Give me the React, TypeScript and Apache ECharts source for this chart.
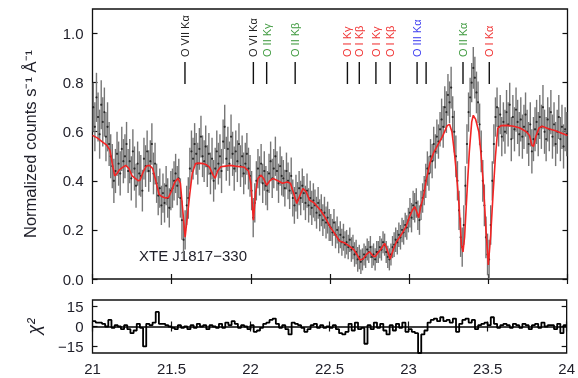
import React, { useEffect, useRef } from "react";
import * as echarts from "echarts";

// Binned spectrum: bin centres start at fluxStart, spaced by fluxStep (Å)
const fluxStart = 21.005;
const fluxStep = 0.01;
const flux = [
  0.70, 0.62, 0.74, 0.66, 0.59, 0.71, 0.64, 0.68, 0.58, 0.62,
  0.55, 0.50, 0.46, 0.40, 0.44, 0.51, 0.47, 0.43, 0.53, 0.48,
  0.50, 0.55, 0.44, 0.48, 0.41, 0.52, 0.45, 0.38, 0.47, 0.43,
  0.42, 0.36, 0.49, 0.46, 0.52, 0.44, 0.48, 0.55, 0.43, 0.47,
  0.39, 0.34, 0.37, 0.30, 0.35, 0.31, 0.38, 0.33, 0.29, 0.36,
  0.37, 0.40, 0.43, 0.38, 0.41, 0.33, 0.24, 0.16, 0.20, 0.30,
  0.33, 0.45, 0.52, 0.49, 0.55, 0.51, 0.47, 0.53, 0.58, 0.50,
  0.48, 0.54, 0.46, 0.51, 0.43, 0.49, 0.40, 0.45, 0.52, 0.47,
  0.50, 0.44, 0.56, 0.62, 0.49, 0.53, 0.47, 0.58, 0.51, 0.45,
  0.52, 0.48, 0.55, 0.46, 0.50, 0.43, 0.47, 0.51, 0.45, 0.42,
  0.36, 0.25, 0.31, 0.40, 0.45, 0.42, 0.47, 0.39, 0.44, 0.38,
  0.36, 0.43, 0.48, 0.41, 0.45, 0.50, 0.44, 0.39, 0.46, 0.42,
  0.41, 0.37, 0.44, 0.40, 0.36, 0.42, 0.33, 0.30, 0.35, 0.32,
  0.37, 0.33, 0.38, 0.35, 0.31, 0.36, 0.30, 0.33, 0.29, 0.32,
  0.30, 0.27, 0.31, 0.26, 0.28, 0.24, 0.27, 0.23, 0.25, 0.22,
  0.21, 0.19, 0.23, 0.18, 0.20, 0.16, 0.18, 0.15, 0.17, 0.14,
  0.15, 0.13, 0.16, 0.12, 0.13, 0.10, 0.11, 0.08, 0.09, 0.07,
  0.08, 0.10, 0.09, 0.12, 0.11, 0.13, 0.09, 0.10, 0.08, 0.11,
  0.11, 0.13, 0.12, 0.15, 0.14, 0.11, 0.09, 0.08, 0.10, 0.13,
  0.14, 0.16, 0.15, 0.18, 0.17, 0.20, 0.19, 0.22, 0.21, 0.24,
  0.27, 0.25, 0.30, 0.29, 0.31, 0.26, 0.24, 0.30, 0.33, 0.36,
  0.40, 0.45, 0.43, 0.50, 0.48, 0.55, 0.52, 0.58, 0.56, 0.61,
  0.65, 0.62, 0.70, 0.68, 0.75, 0.72, 0.78, 0.66, 0.60, 0.50,
  0.40, 0.28, 0.17, 0.13, 0.22, 0.38, 0.55, 0.68, 0.74, 0.80,
  0.86, 0.82, 0.76, 0.72, 0.63, 0.52, 0.40, 0.30, 0.17, 0.10,
  0.08, 0.22, 0.40, 0.55, 0.66, 0.70, 0.62, 0.67, 0.58, 0.64,
  0.60, 0.68, 0.63, 0.71, 0.57, 0.66, 0.61, 0.69, 0.64, 0.59,
  0.65, 0.58, 0.62, 0.67, 0.60, 0.55, 0.63, 0.52, 0.57, 0.61,
  0.64, 0.59, 0.66, 0.62, 0.70, 0.60, 0.57, 0.65, 0.61, 0.68,
  0.58, 0.63, 0.55, 0.60, 0.66, 0.57, 0.62, 0.54, 0.61, 0.59,
];
// 1-sigma error for each 0.1 Å stretch of the spectrum
const fluxErr = [
  0.10, 0.09, 0.09, 0.085, 0.08, 0.08, 0.085, 0.085, 0.09, 0.085,
  0.08, 0.08, 0.075, 0.07, 0.065, 0.055, 0.05, 0.045, 0.045, 0.05,
  0.06, 0.07, 0.085, 0.08, 0.085, 0.08, 0.09, 0.09, 0.09, 0.09,
];

// Best-fitting absorption model
const modelWave = [
  21.00, 21.03, 21.06, 21.09, 21.11, 21.125, 21.14, 21.155, 21.17, 21.19,
  21.21, 21.23, 21.25, 21.27, 21.29, 21.30, 21.32, 21.34, 21.36, 21.38,
  21.40, 21.42, 21.44, 21.46, 21.48, 21.50, 21.52, 21.54, 21.555, 21.57,
  21.585, 21.60, 21.615, 21.63, 21.65, 21.67, 21.70, 21.72, 21.74, 21.76,
  21.775, 21.79, 21.81, 21.84, 21.87, 21.90, 21.93, 21.96, 21.985, 22.00,
  22.016, 22.03, 22.045, 22.065, 22.08, 22.10, 22.12, 22.14, 22.17, 22.20,
  22.23, 22.25, 22.27, 22.29, 22.31, 22.33, 22.35, 22.37, 22.40, 22.44,
  22.47, 22.50, 22.53, 22.56, 22.59, 22.62, 22.65, 22.67, 22.69, 22.71,
  22.73, 22.75, 22.77, 22.785, 22.80, 22.82, 22.845, 22.86, 22.88, 22.90,
  22.92, 22.95, 22.98, 23.00, 23.02, 23.035, 23.05, 23.06, 23.075, 23.09,
  23.11, 23.13, 23.155, 23.18, 23.21, 23.24, 23.255, 23.27, 23.285, 23.30,
  23.315, 23.33, 23.34, 23.35, 23.365, 23.38, 23.395, 23.405, 23.42, 23.44,
  23.455, 23.47, 23.485, 23.50, 23.515, 23.53, 23.545, 23.56, 23.58, 23.62,
  23.66, 23.70, 23.74, 23.76, 23.775, 23.785, 23.80, 23.82, 23.84, 23.88,
  23.92, 23.96, 24.00,
];
const modelFlux = [
  0.585, 0.575, 0.56, 0.545, 0.525, 0.47, 0.42, 0.43, 0.445, 0.455,
  0.463, 0.45, 0.42, 0.41, 0.40, 0.402, 0.436, 0.46, 0.463, 0.45,
  0.40, 0.345, 0.335, 0.33, 0.332, 0.36, 0.395, 0.41, 0.39, 0.28,
  0.17, 0.26, 0.35, 0.43, 0.47, 0.472, 0.47, 0.465, 0.455, 0.425,
  0.41, 0.44, 0.457, 0.46, 0.463, 0.46, 0.458, 0.455, 0.44, 0.39,
  0.24, 0.35, 0.41, 0.423, 0.41, 0.382, 0.40, 0.41, 0.40, 0.39,
  0.395, 0.39, 0.35, 0.308, 0.34, 0.369, 0.355, 0.322, 0.31, 0.28,
  0.25, 0.213, 0.185, 0.155, 0.148, 0.135, 0.12, 0.10, 0.077, 0.082,
  0.10, 0.111, 0.095, 0.09, 0.105, 0.12, 0.145, 0.12, 0.082, 0.12,
  0.152, 0.18, 0.213, 0.25, 0.28, 0.295, 0.27, 0.25, 0.30, 0.335,
  0.41, 0.47, 0.515, 0.545, 0.58, 0.625, 0.63, 0.60, 0.52, 0.42,
  0.30, 0.14, 0.11, 0.17, 0.35, 0.52, 0.64, 0.667, 0.65, 0.60,
  0.50, 0.375, 0.20, 0.057, 0.18, 0.348, 0.50, 0.615, 0.625, 0.626,
  0.622, 0.615, 0.60, 0.585, 0.545, 0.54, 0.58, 0.615, 0.622, 0.612,
  0.605, 0.595, 0.585,
];

// Residuals, binned from chiStart in steps of chiStep (Å)
const chiStart = 21.0;
const chiStep = 0.02;
const chi = [
  4, 3, 3, 2, 0,
  5, -1, 1, 0, -2,
  1, -2, -5, -3, 2,
  -1, -15, 2, 1, 3,
  11, 2, 2, 1, 0,
  -1, -2, 1, -1, 0,
  -2, 1, -1, 2, 0,
  1, -2, 1, 0, -1,
  2, -1, 3, 1, 4,
  2, -1, 1, 0, -2,
  1, -4, -3, -1, 2,
  3, 5, 6, 2, -1,
  1, -2, -6, 3, 2,
  1, -1, -4, -2, 1,
  2, -1, 1, -1, 0,
  -1, 1, -2, -5, -6,
  -4, 2, -3, 3, -2,
  -1, -13, 1, -2, 3,
  -1, 2, -3, -6, 1,
  -3, 2, -1, 3, -4,
  -2, -4, -5, -20, -6,
  -3, 3, 5, 6, 4,
  7, 4, 5, 3, 6,
  -4, 2, 5, 6, 3,
  5, -2, 1, 2, 3,
  1, 7, 2, -1, 1,
  2, 1, -1, 2, 1,
  -1, 2, 1, -2, 1,
  2, -1, 3, 0, 1,
  1, -2, 2, -5, 1,
];

// Absorption line identifications
const lineWave = [21.584, 22.016, 22.10, 22.28, 22.61, 22.685, 22.79, 22.88, 23.05, 23.107, 23.34, 23.506];
const lineName = ["O VII Kα", "O VI Kα", "O II Kγ", "O II Kβ", "O I Kγ", "O I Kβ", "O I Kγ", "O I Kβ", "O III Kα", "", "O II Kα", "O I Kα"];
const lineColor = ["#222222", "#222222", "#3f9a3f", "#3f9a3f", "#f03232", "#f03232", "#f03232", "#f03232", "#3c3cf0", "#222222", "#3f9a3f", "#f03232"];

// Tick values on the flux axis
const fluxTicks = [0, 0.2, 0.4, 0.6, 0.8, 1.0];
const chiTicks = [-15, 0, 15];

const FONT = "'Liberation Sans', Arial, Helvetica, sans-serif";
const INK = "#1e1e28";

export default function App() {
  const ref = useRef<HTMLDivElement>(null);

  useEffect(() => {
    const chart = echarts.init(ref.current!, null, { renderer: "svg" });

    const spectrum = flux.map((f, i) => [fluxStart + i * fluxStep, f, fluxErr[Math.floor(i / 10)]]);
    const model = modelWave.map((w, i) => [w, modelFlux[i]]);
    const resid = chi.map((v, i) => [chiStart + i * chiStep, v]);
    resid.push([chiStart + chi.length * chiStep, chi[chi.length - 1]]);

    const tick = { show: true, inside: true, length: 5, lineStyle: { color: "#111", width: 1.2 } };
    const xBase = {
      type: "value" as const,
      min: 21,
      max: 24,
      interval: 0.5,
      axisLine: { show: false },
      splitLine: { show: false },
      axisTick: tick,
    };

    chart.setOption({
      animation: false,
      textStyle: { fontFamily: FONT, color: INK },
      grid: [
        { left: 92.5, right: 10.5, top: 9, height: 270, show: true, borderColor: "#111", borderWidth: 1.3, backgroundColor: "transparent" },
        { left: 92.5, right: 10.5, top: 300, height: 53, show: true, borderColor: "#111", borderWidth: 1.3, backgroundColor: "transparent" },
      ],
      xAxis: [
        { ...xBase, gridIndex: 0, position: "bottom", axisLabel: { show: false } },
        { ...xBase, gridIndex: 0, position: "top", axisLabel: { show: false } },
        {
          ...xBase,
          gridIndex: 1,
          position: "bottom",
          axisLabel: { show: true, margin: 8, fontSize: 15, color: INK, fontFamily: FONT },
        },
        { ...xBase, gridIndex: 1, position: "top", axisLabel: { show: false } },
      ],
      yAxis: [
        {
          type: "value",
          gridIndex: 0,
          position: "left",
          min: 0,
          max: 1.1,
          axisLine: { show: false },
          splitLine: { show: false },
          axisTick: { ...tick, customValues: fluxTicks },
          axisLabel: {
            margin: 9,
            fontSize: 15,
            color: INK,
            fontFamily: FONT,
            customValues: fluxTicks,
            formatter: (v: number) => v.toFixed(1),
          },
          name: "Normalized counts s⁻¹ Å⁻¹",
          nameLocation: "middle",
          nameRotate: 90,
          nameGap: 54,
          nameTextStyle: { fontSize: 16.5, color: INK, fontFamily: FONT },
        },
        {
          type: "value",
          gridIndex: 0,
          position: "right",
          min: 0,
          max: 1.1,
          axisLine: { show: false },
          splitLine: { show: false },
          axisTick: { ...tick, customValues: fluxTicks },
          axisLabel: { show: false },
        },
        {
          type: "value",
          gridIndex: 1,
          position: "left",
          min: -20,
          max: 20,
          axisLine: { show: false },
          splitLine: { show: false },
          axisTick: { ...tick, customValues: chiTicks },
          axisLabel: {
            margin: 9,
            fontSize: 15,
            color: INK,
            fontFamily: FONT,
            customValues: chiTicks,
            formatter: (v: number) => String(v).replace("-", "−"),
          },
          name: "χ²",
          nameLocation: "middle",
          nameRotate: 90,
          nameGap: 50,
          nameTextStyle: { fontSize: 18, color: INK, fontFamily: FONT, fontStyle: "italic" },
        },
        {
          type: "value",
          gridIndex: 1,
          position: "right",
          min: -20,
          max: 20,
          axisLine: { show: false },
          splitLine: { show: false },
          axisTick: { ...tick, customValues: chiTicks },
          axisLabel: { show: false },
        },
      ],
      graphic: [
        {
          type: "text",
          left: 139,
          top: 248,
          style: { text: "XTE J1817−330", fontSize: 15, fontFamily: FONT, fill: INK },
        },
      ],
      series: [
        {
          type: "custom",
          name: "errors",
          xAxisIndex: 0,
          yAxisIndex: 0,
          data: spectrum,
          encode: { x: 0, y: 1 },
          z: 2,
          renderItem: (params: any, api: any) => {
            const x = api.value(0);
            const y = api.value(1);
            const e = api.value(2);
            const lo = api.coord([x, y - e]);
            const hi = api.coord([x, y + e]);
            return {
              type: "line",
              shape: { x1: lo[0], y1: lo[1], x2: hi[0], y2: hi[1] },
              style: { stroke: "#767676", lineWidth: 1.4 },
            };
          },
        },
        {
          type: "scatter",
          name: "data",
          xAxisIndex: 0,
          yAxisIndex: 0,
          data: spectrum.map((d) => [d[0], d[1]]),
          symbolSize: 2.2,
          itemStyle: { color: "#111" },
          z: 3,
        },
        {
          type: "line",
          name: "model",
          xAxisIndex: 0,
          yAxisIndex: 0,
          data: model,
          symbol: "none",
          lineStyle: { color: "#f22424", width: 1.6 },
          z: 4,
        },
        {
          type: "custom",
          name: "lines",
          xAxisIndex: 0,
          yAxisIndex: 0,
          data: lineWave.map((w) => [w, 1]),
          encode: { x: 0, y: 1 },
          z: 5,
          renderItem: (params: any, api: any) => {
            const i = params.dataIndex;
            const px = api.coord([api.value(0), 0])[0];
            const top = params.coordSys.y;
            const children: any[] = [
              {
                type: "line",
                shape: { x1: px, y1: top + 53, x2: px, y2: top + 75 },
                style: { stroke: "#111", lineWidth: 1.4 },
              },
            ];
            if (lineName[i]) {
              children.push({
                type: "text",
                x: px,
                y: top + 48,
                rotation: Math.PI / 2,
                style: {
                  text: lineName[i],
                  fill: lineColor[i],
                  fontSize: 11,
                  fontFamily: FONT,
                  align: "left",
                  verticalAlign: "middle",
                },
              });
            }
            return { type: "group", children };
          },
        },
        {
          type: "line",
          name: "residuals",
          xAxisIndex: 2,
          yAxisIndex: 2,
          data: resid,
          step: "end",
          symbol: "none",
          lineStyle: { color: "#000", width: 1.8 },
          markLine: {
            silent: true,
            symbol: "none",
            label: { show: false },
            lineStyle: { color: "#000", width: 1.5, type: "solid" },
            data: [{ yAxis: 0 }],
          },
        },
      ],
    });

    return () => chart.dispose();
  }, []);

  return <div ref={ref} style={{ position: "fixed", left: 0, top: 0, width: 578, height: 378 }} />;
}
